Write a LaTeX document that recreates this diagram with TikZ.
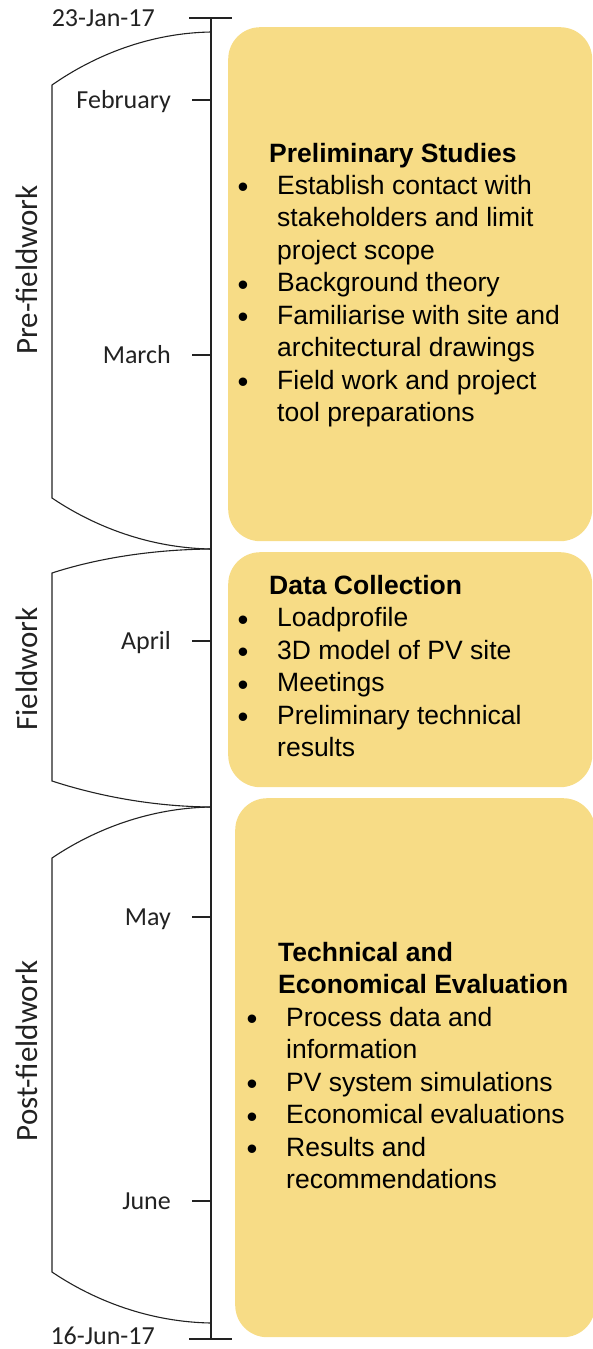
\documentclass[tikz,border=0pt]{standalone}
\usepackage{fontspec}
\setmainfont{Liberation Sans}
\newfontfamily\calfont{Carlito}
\definecolor{boxfill}{HTML}{F7DC86}
\definecolor{ink}{HTML}{222222}
\begin{document}
\begin{tikzpicture}[x=1pt,y=-1pt,
  boxshape/.style={fill=boxfill,draw=none,rounded corners=32pt,inner sep=0pt,anchor=north west},
  axisline/.style={draw=ink,line width=1.4pt},
  bracketline/.style={draw=ink,line width=1.1pt},
  monthlbl/.style={font=\calfont\fontsize{26}{30}\selectfont,text=ink,anchor=base east,inner sep=0pt},
  phaselbl/.style={font=\calfont\fontsize{31}{36}\selectfont,text=ink,rotate=90,anchor=base,inner sep=0pt},
  boxtxt/.style={font=\fontsize{26.5}{32.5}\selectfont,text=black,anchor=base west,inner sep=0pt},
  boxhead/.style={font=\bfseries\fontsize{26.5}{32.5}\selectfont,text=black,anchor=base west,inner sep=0pt},
  bul/.style={font=\fontsize{31}{32.5}\selectfont,text=black,anchor=base,inner sep=0pt,yshift=-3.5pt}]
\useasboundingbox (0,0) rectangle (592,1349);

% boxes
\node[boxshape,minimum width=364pt,minimum height=514pt] (box1) at (228,27) {};
\node[boxshape,minimum width=364pt,minimum height=235pt] (box2) at (228,552) {};
\node[boxshape,minimum width=360pt,minimum height=539pt] (box3) at (235,798) {};

% axis
\coordinate (ax0) at (211,18);
\coordinate (ax1) at (211,1339);
\coordinate (t0l) at (189,18);
\coordinate (t0r) at (232,18);
\coordinate (t1l) at (189,1339);
\coordinate (t1r) at (232,1339);
\draw[axisline] (ax0) -- (ax1);
\draw[axisline] (t0l) -- (t0r);
\draw[axisline] (t1l) -- (t1r);
\foreach \n/\y in {feb/100,mar/355,apr/641,may/917,jun/1201}{
  \coordinate (m\n a) at (192,\y);
  \coordinate (m\n b) at (211,\y);
  \draw[axisline] (m\n a) -- (m\n b);
}

% labels
\node[monthlbl] (d0) at (155,26) {23-Jan-17};
\node[monthlbl] (lfeb) at (171,108.5) {February};
\node[monthlbl] (lmar) at (171,363.5) {March};
\node[monthlbl] (lapr) at (171,649.5) {April};
\node[monthlbl] (lmay) at (171,925.5) {May};
\node[monthlbl] (ljun) at (171,1209.5) {June};
\node[monthlbl] (d1) at (155,1344) {16-Jun-17};

% brackets
\coordinate (b1s) at (211,32);
\coordinate (b1e) at (211,549);
\coordinate (b2e) at (211,807);
\coordinate (b3e) at (211,1323);
\draw[bracketline] (b1s) .. controls (150,33) and (95,55) .. (52,85)
  -- (52,498) .. controls (95,527) and (150,548) .. (b1e);
\draw[bracketline] (b1e) .. controls (150,549.5) and (95,559) .. (52,573)
  -- (52,781) .. controls (95,795) and (150,806.5) .. (b2e);
\draw[bracketline] (b2e) .. controls (150,808) and (95,829) .. (52,858)
  -- (52,1272) .. controls (95,1301) and (150,1322) .. (b3e);

\node[phaselbl] (p1) at (37,270) {Pre-fieldwork};
\node[phaselbl] (p2) at (37,669) {Fieldwork};
\node[phaselbl] (p3) at (37,1051) {Post-fieldwork};

% box 1 text
\node[boxhead] (h1) at (269,162) {Preliminary Studies};
\node[bul] (u11) at (243,194) {\textbullet};
\node[boxtxt] (t11) at (277,194) {Establish contact with};
\node[boxtxt] (t12) at (277,226.5) {stakeholders and limit};
\node[boxtxt] (t13) at (277,259) {project scope};
\node[bul] (u12) at (243,291.5) {\textbullet};
\node[boxtxt] (t14) at (277,291.5) {Background theory};
\node[bul] (u13) at (243,324) {\textbullet};
\node[boxtxt] (t15) at (277,324) {Familiarise with site and};
\node[boxtxt] (t16) at (277,356.5) {architectural drawings};
\node[bul] (u14) at (243,389) {\textbullet};
\node[boxtxt] (t17) at (277,389) {Field work and project};
\node[boxtxt] (t18) at (277,421.5) {tool preparations};

% box 2 text
\node[boxhead] (h2) at (269,594) {Data Collection};
\node[bul] (u21) at (243,626.5) {\textbullet};
\node[boxtxt] (t21) at (277,626.5) {Loadprofile};
\node[bul] (u22) at (243,659) {\textbullet};
\node[boxtxt] (t22) at (277,659) {3D model of PV site};
\node[bul] (u23) at (243,691.5) {\textbullet};
\node[boxtxt] (t23) at (277,691.5) {Meetings};
\node[bul] (u24) at (243,724) {\textbullet};
\node[boxtxt] (t24) at (277,724) {Preliminary technical};
\node[boxtxt] (t25) at (277,756.5) {results};

% box 3 text
\node[boxhead] (h3a) at (278,961) {Technical and};
\node[boxhead] (h3b) at (278,993.5) {Economical Evaluation};
\node[bul] (u31) at (252,1026) {\textbullet};
\node[boxtxt] (t31) at (286,1026) {Process data and};
\node[boxtxt] (t32) at (286,1058.5) {information};
\node[bul] (u32) at (252,1091) {\textbullet};
\node[boxtxt] (t33) at (286,1091) {PV system simulations};
\node[bul] (u33) at (252,1123.5) {\textbullet};
\node[boxtxt] (t34) at (286,1123.5) {Economical evaluations};
\node[bul] (u34) at (252,1156) {\textbullet};
\node[boxtxt] (t35) at (286,1156) {Results and};
\node[boxtxt] (t36) at (286,1188.5) {recommendations};
\end{tikzpicture}
\end{document}
